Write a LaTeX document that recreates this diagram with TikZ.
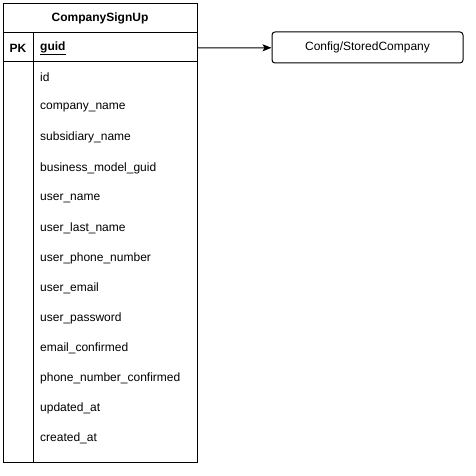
\documentclass[tikz,border=0pt]{standalone}
\usepackage{fontspec}
\setmainfont{Liberation Sans}
\usetikzlibrary{arrows.meta, positioning, calc}
\tikzset{
  tablebox/.style={rectangle, draw=black, line width=1pt, fill=white,
                   minimum width=194pt, minimum height=459pt, inner sep=0pt},
  title/.style={font=\fontsize{12}{14}\selectfont\bfseries},
  keycell/.style={font=\fontsize{12}{14}\selectfont\bfseries},
  field/.style={anchor=west, inner sep=0pt, font=\fontsize{12}{14}\selectfont},
  rule/.style={line width=1pt, black},
  target/.style={rectangle, rounded corners=3pt, draw=black, line width=1pt,
                 minimum width=191pt, minimum height=31pt,
                 font=\fontsize{12}{14}\selectfont},
  arrow/.style={-{Stealth[length=9pt, width=7pt, inset=2pt]}, line width=1pt, black},
}
\begin{document}
\begin{tikzpicture}[x=1pt, y=-1pt]
  \useasboundingbox (0,0) rectangle (476,476);

  % table frame and title
  \node[tablebox, anchor=north west] (tbl) at (3,3) {};
  \node[title] (head) at (100,18) {CompanySignUp};
  \draw[rule] (3,33) -- (197,33);
  \draw[rule] (3,62) -- (197,62);
  \draw[rule] (33,33) -- (33,462);

  % primary key row
  \node[keycell] (pk) at (18,48) {PK};
  \node[field, font=\fontsize{12}{14}\selectfont\bfseries] (guid) at (40,48) {\underline{guid}};

  % plain fields
  \foreach \fname [count=\i] in {id, company\_name, subsidiary\_name,
      business\_model\_guid, user\_name, user\_last\_name, user\_phone\_number,
      user\_email, user\_password, email\_confirmed, phone\_number\_confirmed,
      updated\_at, created\_at}
    \node[field] (f\i) at (40,47.5+30.1*\i) {\fname};

  % referenced entity
  \node[target] (cfg) at (367.5,47.5) {Config/StoredCompany};
  \draw[arrow] (tbl.east |- guid) -- (cfg);
\end{tikzpicture}
\end{document}
